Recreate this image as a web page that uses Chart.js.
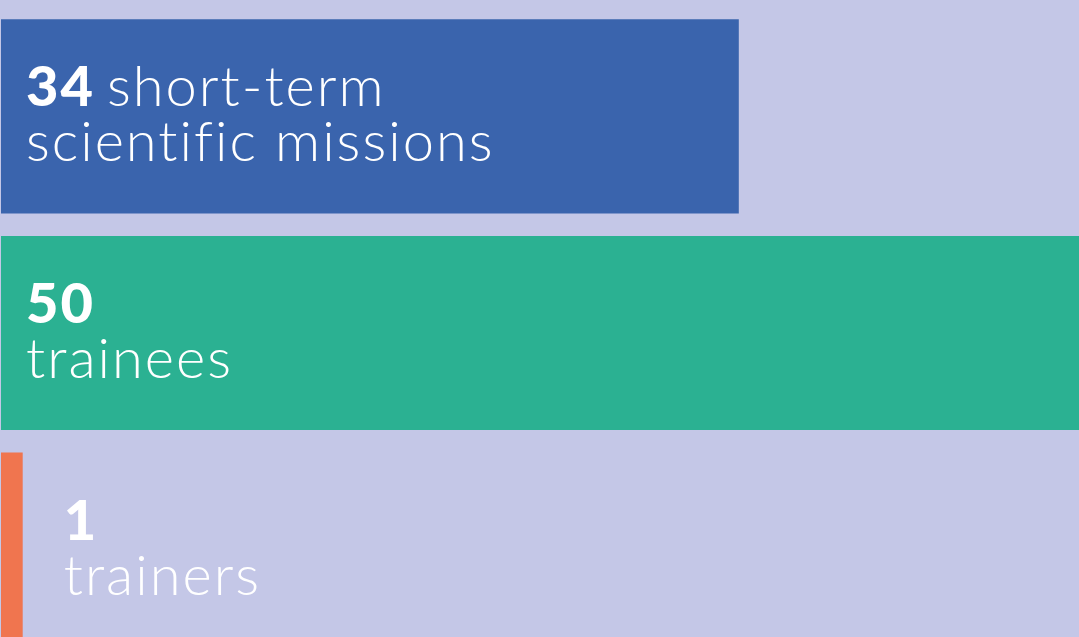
<!DOCTYPE html>
<html>
<head>
<meta charset="utf-8">
<script src="https://cdn.jsdelivr.net/npm/chart.js@4"></script>
<style>
  html, body { margin: 0; padding: 0; background: #c4c7e7; overflow: hidden; }
  #wrap { width: 1079px; height: 637px; overflow: hidden; position: relative; }
  canvas { display: block; }
</style>
</head>
<body>
<div id="wrap"><canvas id="c" width="1086" height="658"></canvas></div>
<script>
// data
const categories = ["short-term scientific missions", "trainees", "trainers"];
const values = [34, 50, 1];
const firstLine = ["short-term", "", ""];
const secondLine = ["scientific missions", "trainees", "trainers"];
const barColors = ["#3a64ad", "#2bb192", "#f0754f"];

const FONT = "Lato, 'Open Sans', sans-serif";

const labelPlugin = {
    id: "barLabels",
    afterDatasetsDraw(chart) {
        const ctx = chart.ctx;
        const meta = chart.getDatasetMeta(0);
        ctx.save();
        ctx.fillStyle = "#ffffff";
        ctx.textBaseline = "alphabetic";
        ctx.letterSpacing = "2px";
        meta.data.forEach((bar, i) => {
            const w = bar.x - bar.base;
            const x = w < 100 ? bar.x + 41 : bar.base + 25;
            const y = bar.y - 10;
            ctx.font = "900 56px " + FONT;
            const num = String(values[i]);
            ctx.fillText(num, x, y);
            if (firstLine[i]) {
                const nw = ctx.measureText(num).width;
                ctx.font = "300 56px " + FONT;
                ctx.fillText(firstLine[i], x + nw + 12, y);
            }
            ctx.font = "300 56px " + FONT;
            ctx.fillText(secondLine[i], x, y + 55);
        });
        ctx.restore();
    }
};

new Chart(document.getElementById("c"), {
    type: "bar",
    data: {
        labels: categories,
        datasets: [{
            data: values,
            backgroundColor: barColors,
            borderWidth: 0,
            categoryPercentage: 1,
            barPercentage: 0.896
        }]
    },
    options: {
        indexAxis: "y",
        responsive: false,
        animation: false,
        layout: { padding: { top: 8, left: 1, right: 0, bottom: 0 } },
        scales: {
            x: { display: false, min: 0, max: 50 },
            y: { display: false }
        },
        plugins: {
            legend: { display: false },
            tooltip: { enabled: false }
        }
    },
    plugins: [labelPlugin]
});
</script>
</body>
</html>
